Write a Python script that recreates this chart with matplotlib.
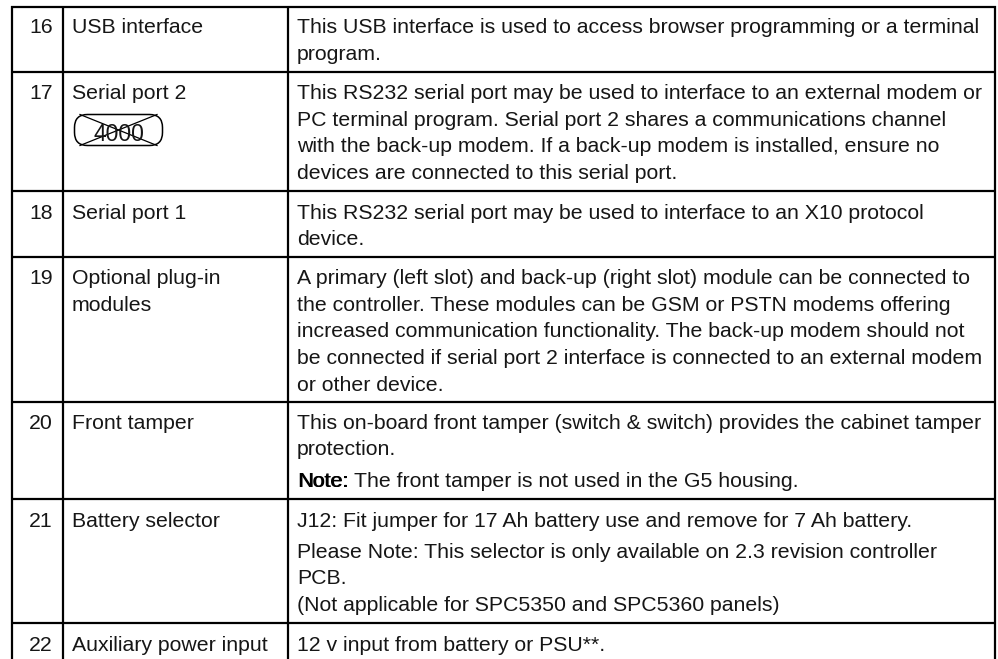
import matplotlib
matplotlib.use('Agg')
import matplotlib.pyplot as plt
from matplotlib.patches import FancyBboxPatch

plt.rcParams['font.family'] = ['Liberation Sans', 'DejaVu Sans']

numbers = ['16', '17', '18', '19', '20', '21', '22']
names = [['USB interface'], ['Serial port 2'], ['Serial port 1'],
         ['Optional plug-in', 'modules'], ['Front tamper'],
         ['Battery selector'], ['Auxiliary power input']]
descriptions = [
    ['This USB interface is used to access browser programming or a terminal',
     'program.'],
    ['This RS232 serial port may be used to interface to an external modem or',
     'PC terminal program. Serial port 2 shares a communications channel',
     'with the back-up modem. If a back-up modem is installed, ensure no',
     'devices are connected to this serial port.'],
    ['This RS232 serial port may be used to interface to an X10 protocol',
     'device.'],
    ['A primary (left slot) and back-up (right slot) module can be connected to',
     'the controller. These modules can be GSM or PSTN modems offering',
     'increased communication functionality. The back-up modem should not',
     'be connected if serial port 2 interface is connected to an external modem',
     'or other device.'],
    ['This on-board front tamper (switch & switch) provides the cabinet tamper',
     'protection.',
     'The front tamper is not used in the G5 housing.'],
    ['J12: Fit jumper for 17 Ah battery use and remove for 7 Ah battery.',
     'Please Note: This selector is only available on 2.3 revision controller',
     'PCB.',
     '(Not applicable for SPC5350 and SPC5360 panels)'],
    ['12 v input from battery or PSU**.'],
]

# layout, in pixels of the 998x659 picture
col_x = [12, 63.5, 288, 995]
row_y = [7, 72, 191, 257, 402, 499, 623, 659]
base_y = [[33, 60],
          [99, 126, 152, 179],
          [219, 245],
          [284, 311, 337, 364, 391],
          [429, 455, 487],
          [527, 558, 584, 611],
          [651]]
fs = 15.3
ink = '#161616'

fig = plt.figure(figsize=(9.98, 6.59), dpi=100)
ax = fig.add_axes([0, 0, 1, 1])
ax.set_xlim(0, 998)
ax.set_ylim(659, 0)
ax.axis('off')

for x in col_x:
    ax.plot([x, x], [row_y[0] - 1, row_y[-1]], color='black', lw=1.6, solid_capstyle='butt')
for y in row_y[:-1]:
    ax.plot([col_x[0] - 1, col_x[-1] + 1], [y, y], color='black', lw=1.6, solid_capstyle='butt')

for i in range(len(numbers)):
    ax.text(53, base_y[i][0], numbers[i], ha='right', va='baseline', fontsize=fs, color=ink)
    for j, t in enumerate(names[i]):
        ax.text(72, base_y[i][j], t, va='baseline', fontsize=fs, color=ink)
    for j, t in enumerate(descriptions[i]):
        if t.startswith('The front tamper'):
            # "Note:" is double struck in the reference
            ax.text(297, base_y[i][j], 'Note:', va='baseline', fontsize=fs, color='black')
            ax.text(297.8, base_y[i][j], 'Note:', va='baseline', fontsize=fs, color='black')
            ax.text(354, base_y[i][j], t, va='baseline', fontsize=fs, color=ink)
        else:
            ax.text(297, base_y[i][j], t, va='baseline', fontsize=fs, color=ink)

# crossed out 4000 badge
ax.add_patch(FancyBboxPatch((74.5, 114.5), 88, 31, boxstyle='round,pad=0,rounding_size=13',
                            fc='none', ec='black', lw=1.1))
ax.text(118.5, 141, '4000', ha='center', va='baseline', fontsize=16.5, color=ink)
ax.plot([80, 157], [114.5, 145.5], color='black', lw=0.9)
ax.plot([80, 157], [145.5, 114.5], color='black', lw=0.9)

fig.savefig('out.png', dpi=100)
